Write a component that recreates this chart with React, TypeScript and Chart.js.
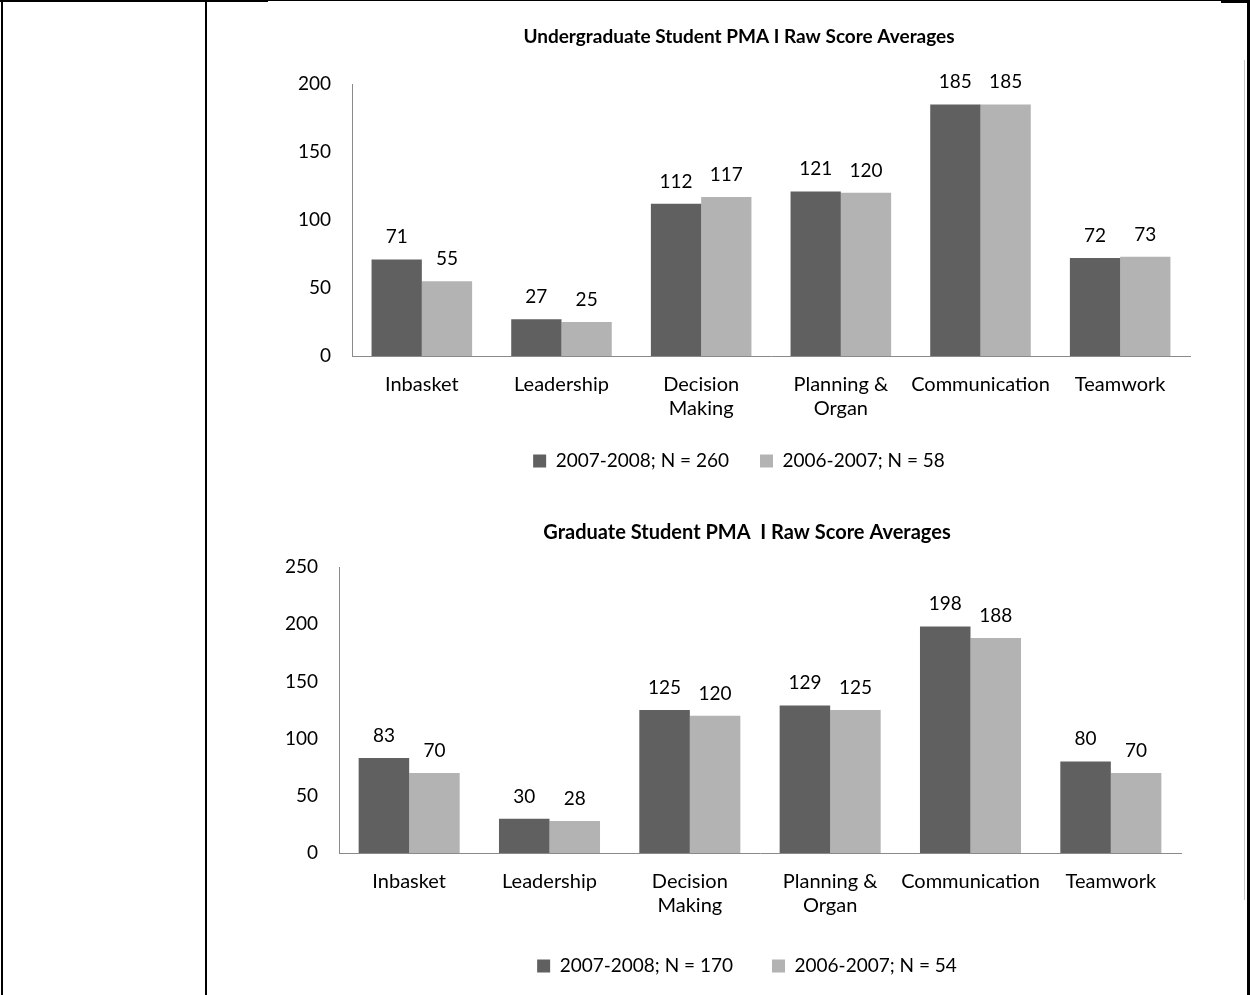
import React, { useEffect, useRef } from "react";
import { Chart, registerables } from "chart.js";

Chart.register(...registerables);

const FONT = "Lato, 'Noto Sans', sans-serif";

const categories: (string | string[])[] = [
  "Inbasket",
  "Leadership",
  ["Decision", "Making"],
  ["Planning &", "Organ"],
  "Communication",
  "Teamwork",
];

const ugTitle = "Undergraduate Student PMA I Raw Score Averages";
const ugLabelA = "2007-2008; N = 260";
const ugLabelB = "2006-2007; N = 58";
const ugValuesA = [71, 27, 112, 121, 185, 72];
const ugValuesB = [55, 25, 117, 120, 185, 73];
const ugMax = 200;

const gradTitle = "Graduate Student PMA  I Raw Score Averages";
const gradLabelA = "2007-2008; N = 170";
const gradLabelB = "2006-2007; N = 54";
const gradValuesA = [83, 30, 125, 129, 198, 80];
const gradValuesB = [70, 28, 120, 125, 188, 70];
const gradMax = 250;

const tickStep = 50;

const DARK = "#606060";
const LIGHT = "#b3b3b3";
const AXIS = "#8a8a8a";

const valueLabels = {
  id: "valueLabels",
  afterDatasetsDraw(chart: any) {
    const ctx = chart.ctx;
    ctx.save();
    ctx.font = `19px ${FONT}`;
    ctx.fillStyle = "#000";
    ctx.textAlign = "center";
    ctx.textBaseline = "alphabetic";
    chart.data.datasets.forEach((ds: any, i: number) => {
      const meta = chart.getDatasetMeta(i);
      meta.data.forEach((el: any, j: number) => {
        ctx.fillText(String(ds.data[j]), el.x, el.y - 16);
      });
    });
    ctx.restore();
  },
};

type Geo = {
  padLeft: number;
  padRight: number;
  padBottom: number;
  yWidth: number;
  y2Width: number;
  xHeight: number;
  titleSize: number;
  titleTop: number;
  titleBottom: number;
  legendPad: number;
};

function makeConfig(
  title: string,
  labelA: string,
  labelB: string,
  a: number[],
  b: number[],
  max: number,
  g: Geo
): any {
  return {
    type: "bar",
    data: {
      labels: categories,
      datasets: [
        { label: labelA, data: a, backgroundColor: DARK, borderWidth: 0 },
        { label: labelB, data: b, backgroundColor: LIGHT, borderWidth: 0 },
      ],
    },
    options: {
      responsive: false,
      animation: false,
      events: [],
      layout: {
        padding: { left: g.padLeft, right: g.padRight, top: 0, bottom: g.padBottom },
      },
      datasets: {
        bar: { barPercentage: 1, categoryPercentage: 0.72 },
      },
      plugins: {
        tooltip: { enabled: false },
        title: {
          display: true,
          text: title,
          color: "#000",
          font: { family: FONT, size: g.titleSize, weight: "bold", lineHeight: 1.2 },
          padding: { top: g.titleTop, bottom: g.titleBottom },
        },
        legend: {
          display: true,
          position: "bottom",
          labels: {
            color: "#000",
            font: { family: FONT, size: 19 },
            boxWidth: 13,
            boxHeight: 13,
            padding: g.legendPad,
          },
        },
      },
      scales: {
        x: {
          grid: { display: false, drawTicks: false },
          border: { display: true, color: AXIS, width: 1 },
          ticks: {
            color: "#000",
            font: { family: FONT, size: 20, lineHeight: 1.2 },
            padding: 17,
            maxRotation: 0,
            autoSkip: false,
          },
          afterFit(scale: any) {
            scale.height = g.xHeight;
          },
        },
        y: {
          min: 0,
          max: max,
          grid: { display: false, drawTicks: false },
          border: { display: true, color: AXIS, width: 1 },
          ticks: {
            stepSize: tickStep,
            color: "#000",
            font: { family: FONT, size: 19 },
            padding: 21,
          },
          afterFit(scale: any) {
            scale.width = g.yWidth;
          },
        },
        y2: {
          type: "linear",
          position: "right",
          display: g.y2Width > 0,
          min: 0,
          max: max,
          grid: { display: false, drawTicks: false },
          border: { display: false },
          ticks: { display: false },
          afterFit(scale: any) {
            scale.width = g.y2Width;
          },
        },
      },
    },
    plugins: [valueLabels],
  };
}

function BarChart(props: {
  left: number;
  top: number;
  width: number;
  height: number;
  config: () => any;
}) {
  const ref = useRef<HTMLCanvasElement | null>(null);
  useEffect(() => {
    if (!ref.current) return;
    const chart = new Chart(ref.current, props.config());
    return () => chart.destroy();
  }, []);
  return (
    <canvas
      ref={ref}
      width={props.width}
      height={props.height}
      style={{
        position: "absolute",
        left: props.left,
        top: props.top,
        width: props.width,
        height: props.height,
      }}
    />
  );
}

function Line(p: { l: number; t: number; w: number; h: number; c?: string }) {
  return (
    <div
      style={{
        position: "absolute",
        left: p.l,
        top: p.t,
        width: p.w,
        height: p.h,
        background: p.c || "#000",
      }}
    />
  );
}

export default function App() {
  return (
    <div
      style={{
        position: "fixed",
        left: 0,
        top: 0,
        width: 1250,
        height: 995,
        overflow: "hidden",
        background: "#fff",
      }}
    >
      <BarChart
        left={208}
        top={8}
        width={1036}
        height={540}
        config={() =>
          makeConfig(ugTitle, ugLabelA, ugLabelB, ugValuesA, ugValuesB, ugMax, {
            padLeft: 80,
            padRight: 54,
            padBottom: 67.5,
            yWidth: 64,
            y2Width: 0,
            xHeight: 64.5,
            titleSize: 19,
            titleTop: 17.6,
            titleBottom: 35.6,
            legendPad: 31,
          })
        }
      />
      <BarChart
        left={208}
        top={500}
        width={1036}
        height={495}
        config={() =>
          makeConfig(gradTitle, gradLabelA, gradLabelB, gradValuesA, gradValuesB, gradMax, {
            padLeft: 65,
            padRight: 23,
            padBottom: 9.5,
            yWidth: 66,
            y2Width: 40,
            xHeight: 64.5,
            titleSize: 20,
            titleTop: 21,
            titleBottom: 22,
            legendPad: 39,
          })
        }
      />
      <Line l={1244} t={60} w={1} h={840} c="#c8c8c8" />
      <Line l={1} t={0} w={2} h={995} />
      <Line l={205} t={0} w={2} h={995} />
      <Line l={1247} t={0} w={3} h={995} />
      <Line l={0} t={0} w={268} h={2} />
      <Line l={268} t={0} w={953} h={1} />
      <Line l={1221} t={0} w={29} h={3} />
    </div>
  );
}
